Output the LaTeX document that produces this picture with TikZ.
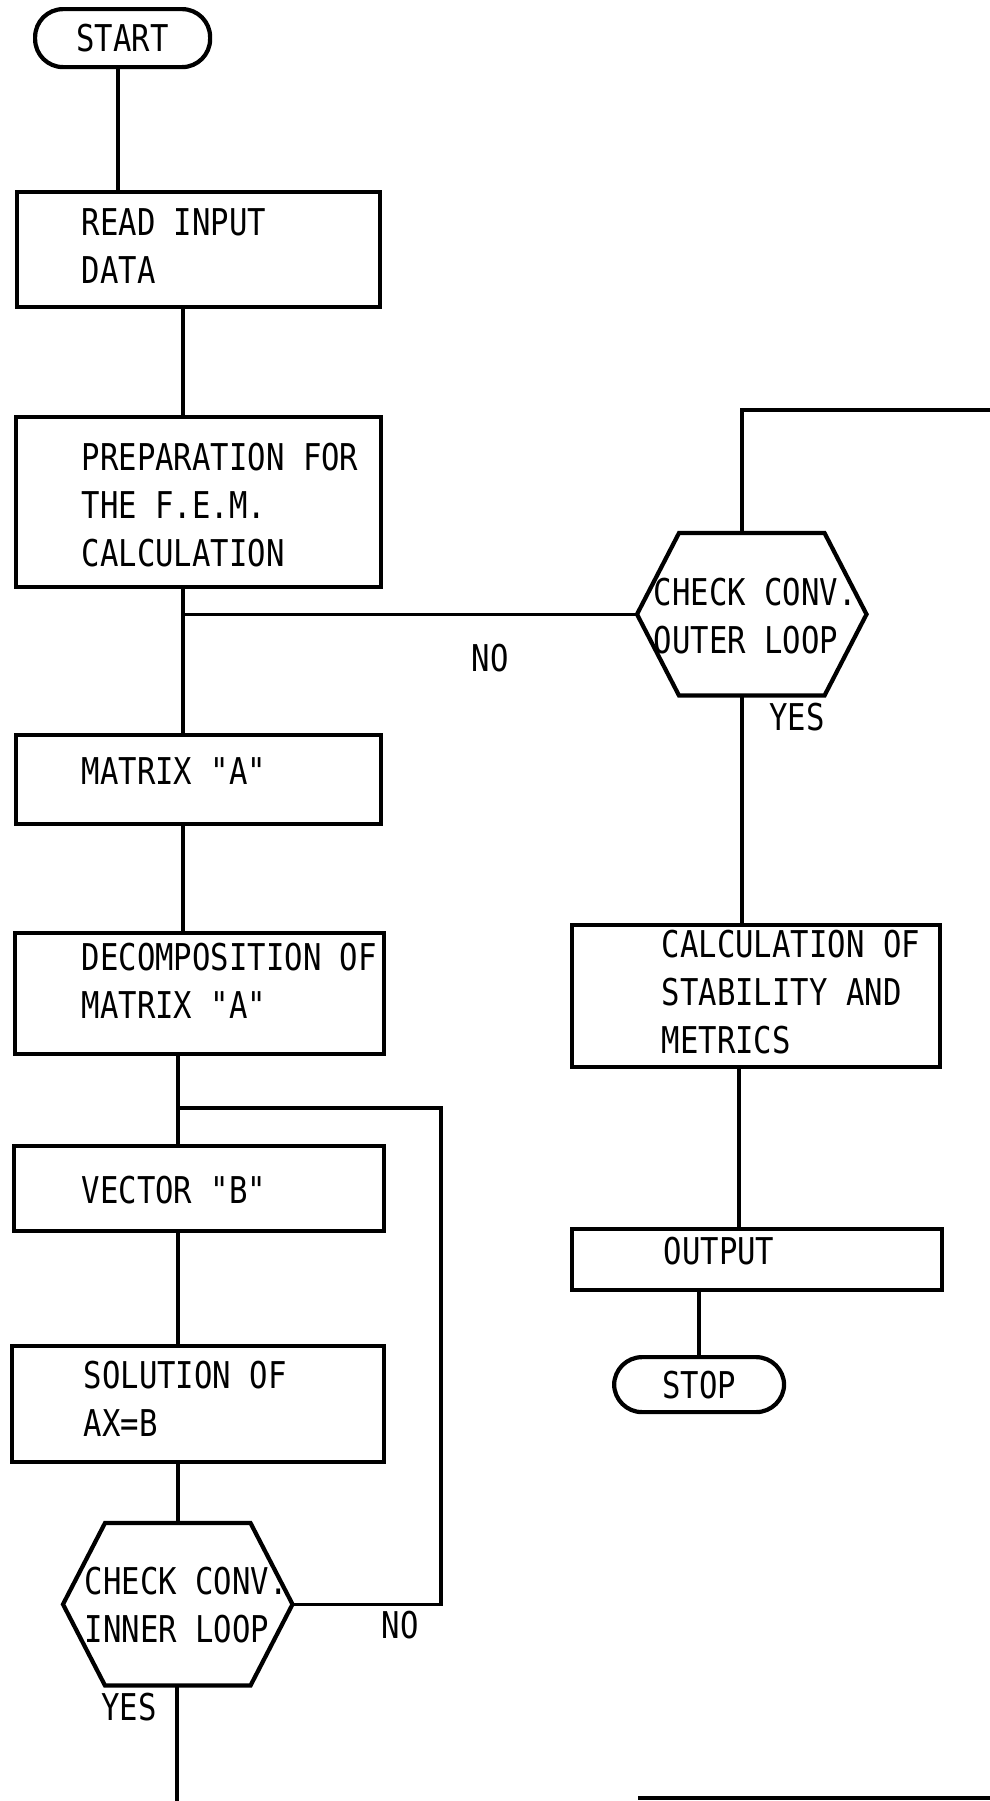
\documentclass[tikz,border=0pt]{standalone}
\usepackage{fontspec}
\newfontfamily\chartfont[FakeStretch=0.83]{DejaVu Sans Mono}
\newcommand{\flowfont}{\chartfont\fontsize{10.5pt}{13.6pt}\selectfont}
\usetikzlibrary{positioning}

\begin{document}
\begin{tikzpicture}[line width=1pt,
      stepbox/.style={draw, rectangle, line width=1.2pt, inner sep=0pt, anchor=north west},
      term/.style={draw, rectangle, rounded corners=2.8mm, line width=1.2pt, inner sep=0pt,
                   anchor=north west, font=\flowfont},
      hexa/.style={rectangle, inner sep=0pt, anchor=north west,
                   minimum width=2.26cm, minimum height=1.59cm},
      txt/.style={anchor=west, inner sep=0pt, align=left, font=\flowfont},
      lbl/.style={inner sep=0pt, font=\flowfont}]

    \useasboundingbox (0,0) rectangle (9.90,-18.01);

    \def\hs{0.42}  % depth of the hexagon points
    \newcommand{\hexframe}[1]{%
      \draw[line width=1.2pt] (#1.west) -- ([xshift=\hs cm]#1.north west)
        -- ([xshift=-\hs cm]#1.north east) -- (#1.east)
        -- ([xshift=-\hs cm]#1.south east) -- ([xshift=\hs cm]#1.south west) -- cycle;}

    % Spines of the two columns
    \coordinate (sp0) at (1.18,0);
    \coordinate (sp1) at (1.83,0);
    \coordinate (sp2) at (1.78,0);
    \coordinate (rs1) at (7.42,0);
    \coordinate (rs2) at (7.39,0);

    % Left column
    \node[term, minimum width=1.75cm, minimum height=0.58cm] (start) at (0.33,-0.07) {START};
    \node[stepbox, minimum width=3.63cm, minimum height=1.15cm] (read)   at (0.15,-1.90) {};
    \node[stepbox, minimum width=3.65cm, minimum height=1.70cm] (prep)   at (0.14,-4.15) {};
    \node[stepbox, minimum width=3.65cm, minimum height=0.89cm] (mata)   at (0.14,-7.33) {};
    \node[stepbox, minimum width=3.69cm, minimum height=1.21cm] (decomp) at (0.13,-9.31) {};
    \node[stepbox, minimum width=3.70cm, minimum height=0.85cm] (vecb)   at (0.12,-11.44) {};
    \node[stepbox, minimum width=3.72cm, minimum height=1.16cm] (solve)  at (0.10,-13.44) {};
    \node[hexa] (inner) at (0.63,-15.23) {};
    \hexframe{inner}

    \node[txt] (readtxt)   at (0.80,-2.46)  {READ INPUT\\DATA};
    \node[txt] (preptxt)   at (0.80,-5.05)  {PREPARATION FOR\\THE F.E.M.\\CALCULATION};
    \node[txt] (matatxt)   at (0.80,-7.71)  {MATRIX "A"};
    \node[txt] (decomptxt) at (0.80,-9.81)  {DECOMPOSITION OF\\MATRIX "A"};
    \node[txt] (vecbtxt)   at (0.80,-11.90) {VECTOR "B"};
    \node[txt] (solvetxt)  at (0.82,-13.99) {SOLUTION OF\\AX=B};
    \node[txt] (innertxt)  at (0.83,-16.05) {CHECK CONV.\\INNER LOOP};

    % Right column
    \node[hexa] (outer) at (6.37,-5.33) {};
    \hexframe{outer}
    \node[stepbox, minimum width=3.68cm, minimum height=1.42cm] (calc) at (5.70,-9.23) {};
    \node[stepbox, minimum width=3.70cm, minimum height=0.61cm] (outp) at (5.70,-12.27) {};
    \node[term, minimum width=1.70cm, minimum height=0.55cm] (stop) at (6.12,-13.55) {STOP};

    \node[txt] (outertxt) at (6.52,-6.16)  {CHECK CONV.\\OUTER LOOP};
    \node[txt] (calctxt)  at (6.60,-9.92)  {CALCULATION OF\\STABILITY AND\\METRICS};
    \node[txt] (outptxt)  at (6.62,-12.51) {OUTPUT};

    % Branch labels
    \node[lbl] (noout)  at (4.90,-6.58)  {NO};
    \node[lbl] (yesout) at (7.97,-7.17)  {YES};
    \node[lbl] (noin)   at (4.00,-16.25) {NO};
    \node[lbl] (yesin)  at (1.29,-17.07) {YES};

    % Connectors, left column
    \draw (start.south -| sp0) -- (read.north -| sp0);
    \draw (read.south -| sp1) -- (prep.north -| sp1);
    \draw (prep.south -| sp1) -- (mata.north -| sp1);
    \draw (outer.west -| sp1) -- (outer.west);
    \draw (mata.south -| sp1) -- (decomp.north -| sp1);
    \draw (decomp.south -| sp2) -- (vecb.north -| sp2);
    \draw (vecb.south -| sp2) -- (solve.north -| sp2);
    \draw (solve.south -| sp2) -- (inner.north -| sp2);
    \coordinate (loopin) at (4.41,-11.08);
    \draw (inner.east) -| (loopin) -- (loopin -| sp2);
    \coordinate (exitin) at (1.77,-18.01);
    \draw (inner.south -| exitin) -- (exitin);

    % Connectors, right column
    \coordinate (loopout) at (9.90,-4.10);
    \draw (outer.north -| rs1) |- (loopout);
    \draw (outer.south -| rs1) -- (calc.north -| rs1);
    \draw (calc.south -| rs2) -- (outp.north -| rs2);
    \draw (outp.south -| stop) -- (stop);
    \coordinate (tailL) at (6.38,-17.98);
    \coordinate (tailR) at (9.90,-17.98);
    \draw (tailL) -- (tailR);

\end{tikzpicture}
\end{document}
